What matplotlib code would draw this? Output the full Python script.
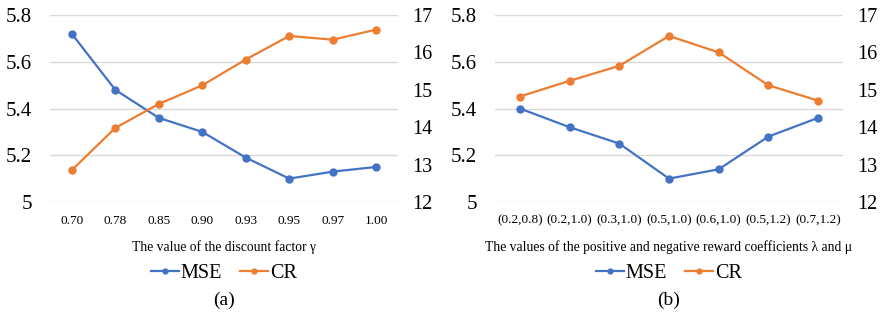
import numpy as np
import matplotlib.pyplot as plt
from matplotlib.ticker import FixedLocator

plt.rcParams['font.family'] = ['Liberation Serif', 'DejaVu Serif']

# panel (a)
gamma_labels = ['0.70', '0.78', '0.85', '0.90', '0.93', '0.95', '0.97', '1.00']
mse_a = [5.72, 5.48, 5.36, 5.30, 5.19, 5.10, 5.13, 5.15]
cr_a = [12.85, 13.98, 14.62, 15.12, 15.81, 16.44, 16.34, 16.61]

# panel (b)
coef_labels = ['(0.2,0.8)', '(0.2,1.0)', '(0.3,1.0)', '(0.5,1.0)', '(0.6,1.0)', '(0.5,1.2)', '(0.7,1.2)']
mse_b = [5.40, 5.32, 5.25, 5.10, 5.14, 5.28, 5.36]
cr_b = [14.82, 15.24, 15.64, 16.44, 16.00, 15.12, 14.71]

blue = '#4472C4'
orange = '#ED7D31'

fig = plt.figure(figsize=(8.81, 3.2), dpi=100)

def panel(rect, labels, mse, cr, xlabel, tag):
    ax = fig.add_axes(rect)
    ax2 = ax.twinx()
    x = np.arange(len(labels))
    l1, = ax.plot(x, mse, color=blue, lw=1.6, marker='o', ms=5, label='MSE')
    l2, = ax2.plot(x, cr, color=orange, lw=1.6, marker='o', ms=5, label='CR')
    ax.set_ylim(5, 5.8)
    ax2.set_ylim(12, 17)
    ax.yaxis.set_major_locator(FixedLocator([5, 5.2, 5.4, 5.6, 5.8]))
    ax.set_yticklabels(['5', '5.2', '5.4', '5.6', '5.8'])
    ax2.yaxis.set_major_locator(FixedLocator([12, 13, 14, 15, 16, 17]))
    ax.set_xlim(-0.5, len(labels) - 0.5)
    ax.set_xticks(x)
    ax.set_xticklabels(labels, fontsize=9.5)
    ax.grid(axis='y', color='#D9D9D9', lw=1)
    ax.set_axisbelow(True)
    for a in (ax, ax2):
        for s in a.spines.values():
            s.set_visible(False)
        a.tick_params(length=0)
    ax.tick_params(axis='y', labelsize=15, pad=13)
    ax2.tick_params(axis='y', labelsize=14.5, pad=10)
    ax.tick_params(axis='x', pad=9)
    ax.set_xlabel(xlabel, fontsize=9.8, labelpad=10)
    cx = rect[0] + rect[2] / 2
    fig.legend([l1, l2], ['MSE', 'CR'], loc='center', bbox_to_anchor=(cx, 1 - 273 / 320),
               ncol=2, frameon=False, fontsize=14.5, handlelength=1.4, handletextpad=0.1,
               columnspacing=0.9, markerscale=0.7)
    fig.text(cx, 1 - 300 / 320, tag, ha='center', va='center', fontsize=14)
    return ax

panel([50 / 881, 1 - 202 / 320, 348 / 881, 187 / 320], gamma_labels, mse_a, cr_a,
      'The value of the discount factor \u03b3', '(a)')
panel([495 / 881, 1 - 202 / 320, 348 / 881, 187 / 320], coef_labels, mse_b, cr_b,
      'The values of the positive and negative reward coefficients \u03bb and \u03bc', '(b)')

fig.savefig('out.png', dpi=100)
